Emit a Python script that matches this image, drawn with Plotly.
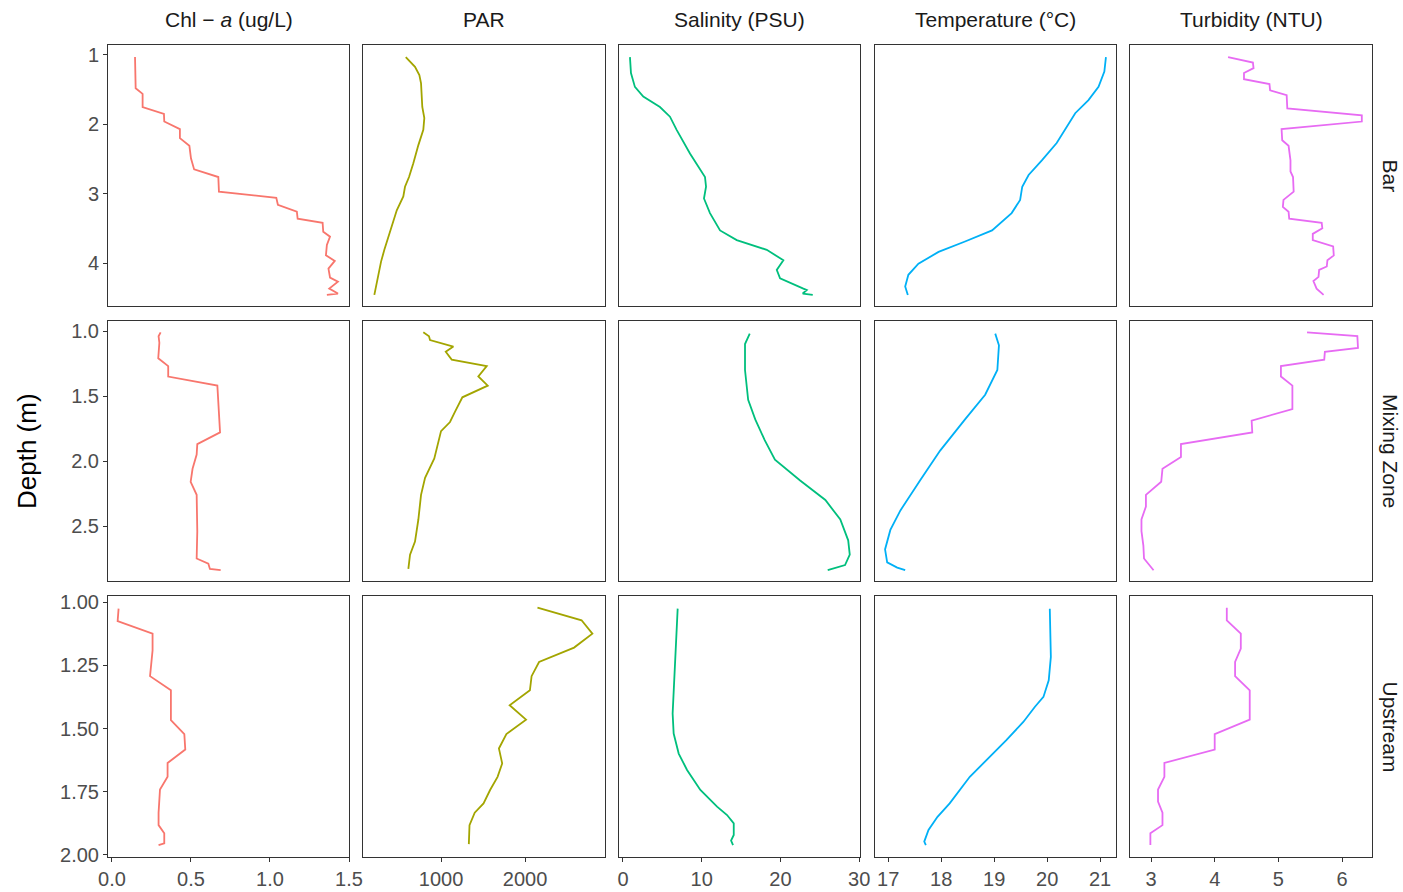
import plotly.graph_objects as go

# ---------------- data ----------------
rows = ["Bar", "Mixing Zone", "Upstream"]
cols = ["Chl − <i>a</i> (ug/L)", "PAR", "Salinity (PSU)", "Temperature (°C)", "Turbidity (NTU)"]
colors = ["#F8766D", "#A3A500", "#00BF7D", "#00B0F6", "#E76BF3"]

# Bar
bar_chl_depth = [1.03, 1.48, 1.56, 1.75, 1.85, 1.96, 2.07, 2.20, 2.31, 2.49, 2.65, 2.76, 2.97, 3.06, 3.16, 3.26,
                 3.36, 3.42, 3.55, 3.62, 3.74, 3.89, 3.97, 4.08, 4.21, 4.27, 4.37, 4.44, 4.46]
bar_chl = [0.146, 0.150, 0.194, 0.194, 0.329, 0.331, 0.430, 0.430, 0.490, 0.500, 0.520, 0.673, 0.677, 1.040,
           1.050, 1.170, 1.175, 1.333, 1.337, 1.380, 1.360, 1.354, 1.410, 1.370, 1.380, 1.430, 1.375, 1.430, 1.360]
bar_par_depth = [1.03, 1.17, 1.29, 1.41, 1.75, 1.91, 2.08, 2.30, 2.56, 2.76, 2.90, 3.04, 3.24, 3.53, 3.81,
                 3.98, 4.20, 4.46]
bar_par = [580, 690, 742, 762, 777, 801, 789, 730, 670, 619, 571, 551, 473, 393, 325, 286, 246, 206]
bar_sal_depth = [1.03, 1.26, 1.46, 1.60, 1.75, 1.89, 2.08, 2.42, 2.76, 2.90, 3.07, 3.28, 3.53, 3.67, 3.81,
                 3.96, 4.10, 4.22, 4.37, 4.39, 4.44, 4.46]
bar_sal = [0.89, 1.02, 1.52, 2.58, 4.70, 5.97, 6.82, 8.51, 10.42, 10.55, 10.29, 11.05, 12.33, 14.45, 18.26,
           20.37, 19.53, 19.95, 22.91, 23.34, 22.83, 24.10]
bar_tmp_depth = [1.03, 1.24, 1.46, 1.65, 1.84, 2.08, 2.27, 2.52, 2.73, 2.90, 3.09, 3.28, 3.53, 3.69, 3.84,
                 4.01, 4.17, 4.34, 4.46]
bar_tmp = [21.11, 21.08, 20.97, 20.78, 20.53, 20.34, 20.18, 19.90, 19.65, 19.53, 19.49, 19.33, 18.96, 18.45,
           17.95, 17.57, 17.38, 17.32, 17.37]
bar_tur_depth = [1.03, 1.11, 1.19, 1.26, 1.35, 1.42, 1.51, 1.58, 1.77, 1.87, 1.96, 2.07, 2.23, 2.31, 2.52,
                 2.68, 2.76, 2.97, 3.09, 3.19, 3.26, 3.36, 3.42, 3.50, 3.58, 3.67, 3.76, 3.89, 3.96, 4.05,
                 4.10, 4.20, 4.26, 4.37, 4.46]
bar_tur = [4.21, 4.60, 4.61, 4.46, 4.46, 4.86, 4.87, 5.13, 5.14, 6.31, 6.31, 5.05, 5.06, 5.16, 5.19, 5.19,
           5.23, 5.24, 5.08, 5.07, 5.16, 5.17, 5.68, 5.69, 5.54, 5.54, 5.86, 5.87, 5.77, 5.76, 5.64, 5.63,
           5.55, 5.60, 5.71]

# Mixing Zone
mz_chl_depth = [1.01, 1.04, 1.09, 1.21, 1.27, 1.35, 1.42, 1.59, 1.78, 1.87, 1.95, 2.06, 2.16, 2.26, 2.54,
                2.75, 2.79, 2.83, 2.84]
mz_chl = [0.308, 0.295, 0.300, 0.293, 0.356, 0.356, 0.667, 0.673, 0.684, 0.540, 0.536, 0.510, 0.498, 0.536,
          0.540, 0.536, 0.610, 0.620, 0.688]
mz_par_depth = [1.01, 1.04, 1.07, 1.12, 1.16, 1.22, 1.27, 1.35, 1.42, 1.51, 1.62, 1.70, 1.77, 1.98, 2.13,
                2.26, 2.45, 2.62, 2.72, 2.83]
mz_par = [789, 857, 869, 1147, 1056, 1127, 1544, 1444, 1556, 1254, 1167, 1107, 1000, 920, 810, 762, 730,
          690, 631, 611]
mz_sal_depth = [1.02, 1.10, 1.30, 1.53, 1.68, 1.84, 1.99, 2.15, 2.30, 2.45, 2.61, 2.72, 2.80, 2.84]
mz_sal = [16.1, 15.5, 15.5, 15.9, 16.8, 18.0, 19.3, 22.5, 25.7, 27.6, 28.6, 28.8, 28.2, 26.0]
mz_tmp_depth = [1.02, 1.11, 1.30, 1.49, 1.68, 1.92, 2.15, 2.38, 2.53, 2.68, 2.78, 2.82, 2.84]
mz_tmp = [19.02, 19.09, 19.06, 18.83, 18.45, 17.98, 17.60, 17.23, 17.04, 16.94, 16.98, 17.17, 17.32]
mz_tur_depth = [1.01, 1.04, 1.13, 1.16, 1.22, 1.27, 1.35, 1.42, 1.60, 1.69, 1.78, 1.87, 1.97, 2.06, 2.16,
                2.26, 2.35, 2.45, 2.54, 2.65, 2.75, 2.79, 2.84]
mz_tur = [5.45, 6.24, 6.25, 5.73, 5.72, 5.04, 5.04, 5.22, 5.22, 4.58, 4.59, 3.47, 3.47, 3.18, 3.16, 2.92,
          2.92, 2.85, 2.85, 2.88, 2.89, 2.96, 3.04]

# Upstream
up_chl_depth = [1.026, 1.075, 1.125, 1.191, 1.293, 1.349, 1.467, 1.522, 1.583, 1.636, 1.691, 1.741, 1.833,
                1.882, 1.914, 1.954, 1.961]
up_chl = [0.042, 0.036, 0.257, 0.257, 0.241, 0.373, 0.373, 0.458, 0.464, 0.352, 0.352, 0.304, 0.295, 0.295,
          0.331, 0.331, 0.295]
up_par_depth = [1.022, 1.072, 1.125, 1.180, 1.237, 1.293, 1.349, 1.408, 1.465, 1.522, 1.579, 1.638, 1.691,
                1.743, 1.796, 1.833, 1.882, 1.928, 1.957]
up_par = [2148, 2673, 2802, 2584, 2167, 2078, 2058, 1817, 2012, 1778, 1689, 1728, 1673, 1584, 1506, 1401,
          1339, 1339, 1331]
up_sal_depth = [1.026, 1.151, 1.283, 1.441, 1.520, 1.599, 1.664, 1.743, 1.809, 1.842, 1.875, 1.921, 1.943,
                1.961]
up_sal = [6.95, 6.78, 6.53, 6.31, 6.44, 7.08, 8.14, 9.83, 11.95, 13.22, 14.07, 14.07, 13.73, 13.98]
up_tmp_depth = [1.026, 1.217, 1.309, 1.375, 1.414, 1.474, 1.546, 1.612, 1.691, 1.796, 1.849, 1.901, 1.947,
                1.961]
up_tmp = [20.05, 20.07, 20.03, 19.93, 19.77, 19.55, 19.23, 18.92, 18.54, 18.16, 17.93, 17.76, 17.68, 17.71]
up_tur_depth = [1.022, 1.072, 1.125, 1.184, 1.237, 1.293, 1.349, 1.465, 1.522, 1.583, 1.636, 1.691, 1.741,
                1.789, 1.833, 1.882, 1.914, 1.961]
up_tur = [4.19, 4.19, 4.41, 4.41, 4.32, 4.32, 4.55, 4.55, 4.00, 4.00, 3.21, 3.21, 3.11, 3.11, 3.18, 3.18,
          2.99, 2.99]

panels = [
    [(bar_chl, bar_chl_depth), (bar_par, bar_par_depth), (bar_sal, bar_sal_depth),
     (bar_tmp, bar_tmp_depth), (bar_tur, bar_tur_depth)],
    [(mz_chl, mz_chl_depth), (mz_par, mz_par_depth), (mz_sal, mz_sal_depth),
     (mz_tmp, mz_tmp_depth), (mz_tur, mz_tur_depth)],
    [(up_chl, up_chl_depth), (up_par, up_par_depth), (up_sal, up_sal_depth),
     (up_tmp, up_tmp_depth), (up_tur, up_tur_depth)],
]

# ---------------- layout helpers ----------------
W, H = 1403, 892
col_px = [(108, 349), (363, 605), (619, 860), (875, 1116), (1130, 1372)]
row_px = [(45, 306), (321, 581), (596, 857)]
x_ranges = [[-0.025, 1.5], [71, 2952], [-0.5, 30.1], [16.75, 21.3], [2.67, 6.47]]
x_dtick = [0.5, 1000, 10, 1, 1]
x_fmt = [".1f", "d", "d", "d", "d"]
y_ranges = [[4.62, 0.856], [2.923, 0.923], [2.008, 0.976]]
y_dtick = [1, 0.5, 0.25]
y_fmt = ["d", ".1f", ".2f"]

FONT = "Liberation Sans, Arial, sans-serif"
tick_font = dict(family=FONT, size=20, color="#4D4D4D")
line_col = "#333333"

fig = go.Figure()
layout = {}
for r in range(3):
    for c in range(5):
        idx = r * 5 + c + 1
        xs = "" if idx == 1 else str(idx)
        xv, yv = panels[r][c]
        fig.add_trace(go.Scatter(x=xv, y=yv, mode="lines", xaxis="x" + xs, yaxis="y" + xs,
                                 line=dict(color=colors[c], width=1.8), showlegend=False,
                                 hoverinfo="x+y"))
        bottom = r == 2
        left = c == 0
        layout["xaxis" + xs] = dict(
            domain=[col_px[c][0] / W, col_px[c][1] / W], anchor="y" + xs, automargin=False,
            range=x_ranges[c], dtick=x_dtick[c], tick0=0, tickformat=x_fmt[c],
            showline=True, mirror=True, linecolor=line_col, linewidth=1,
            showgrid=False, zeroline=False,
            ticks="outside" if bottom else "", ticklen=4, tickcolor=line_col, tickwidth=1,
            showticklabels=bottom, tickfont=tick_font,
        )
        layout["yaxis" + xs] = dict(
            domain=[1 - row_px[r][1] / H, 1 - row_px[r][0] / H], anchor="x" + xs, automargin=False,
            range=y_ranges[r], dtick=y_dtick[r], tick0=0, tickformat=y_fmt[r],
            showline=True, mirror=True, linecolor=line_col, linewidth=1,
            showgrid=False, zeroline=False,
            ticks="outside" if left else "", ticklen=4, tickcolor=line_col, tickwidth=1,
            showticklabels=left, tickfont=tick_font,
        )

annotations = []
for c, name in enumerate(cols):
    annotations.append(dict(text=name, x=(col_px[c][0] + col_px[c][1]) / 2 / W, y=1 - 19 / H,
                            xref="paper", yref="paper", showarrow=False,
                            font=dict(family=FONT, size=21, color="#1A1A1A"),
                            xanchor="center", yanchor="middle"))
for r, name in enumerate(rows):
    annotations.append(dict(text=name, x=1390 / W, y=1 - (row_px[r][0] + row_px[r][1]) / 2 / H,
                            xref="paper", yref="paper", showarrow=False, textangle=90,
                            font=dict(family=FONT, size=21, color="#1A1A1A"),
                            xanchor="center", yanchor="middle"))
annotations.append(dict(text="Depth (m)", x=27 / W, y=1 - 451 / H, xref="paper", yref="paper",
                        showarrow=False, textangle=-90,
                        font=dict(family=FONT, size=26, color="#000000"),
                        xanchor="center", yanchor="middle"))

fig.update_layout(**layout)
fig.update_layout(width=W, height=H, margin=dict(l=0, r=0, t=0, b=0, autoexpand=False),
                  paper_bgcolor="white", plot_bgcolor="white",
                  annotations=annotations, showlegend=False)

fig.write_html("out.html", config={"displayModeBar": False},
               post_script="document.body.style.margin='0';document.body.style.overflow='hidden';")
